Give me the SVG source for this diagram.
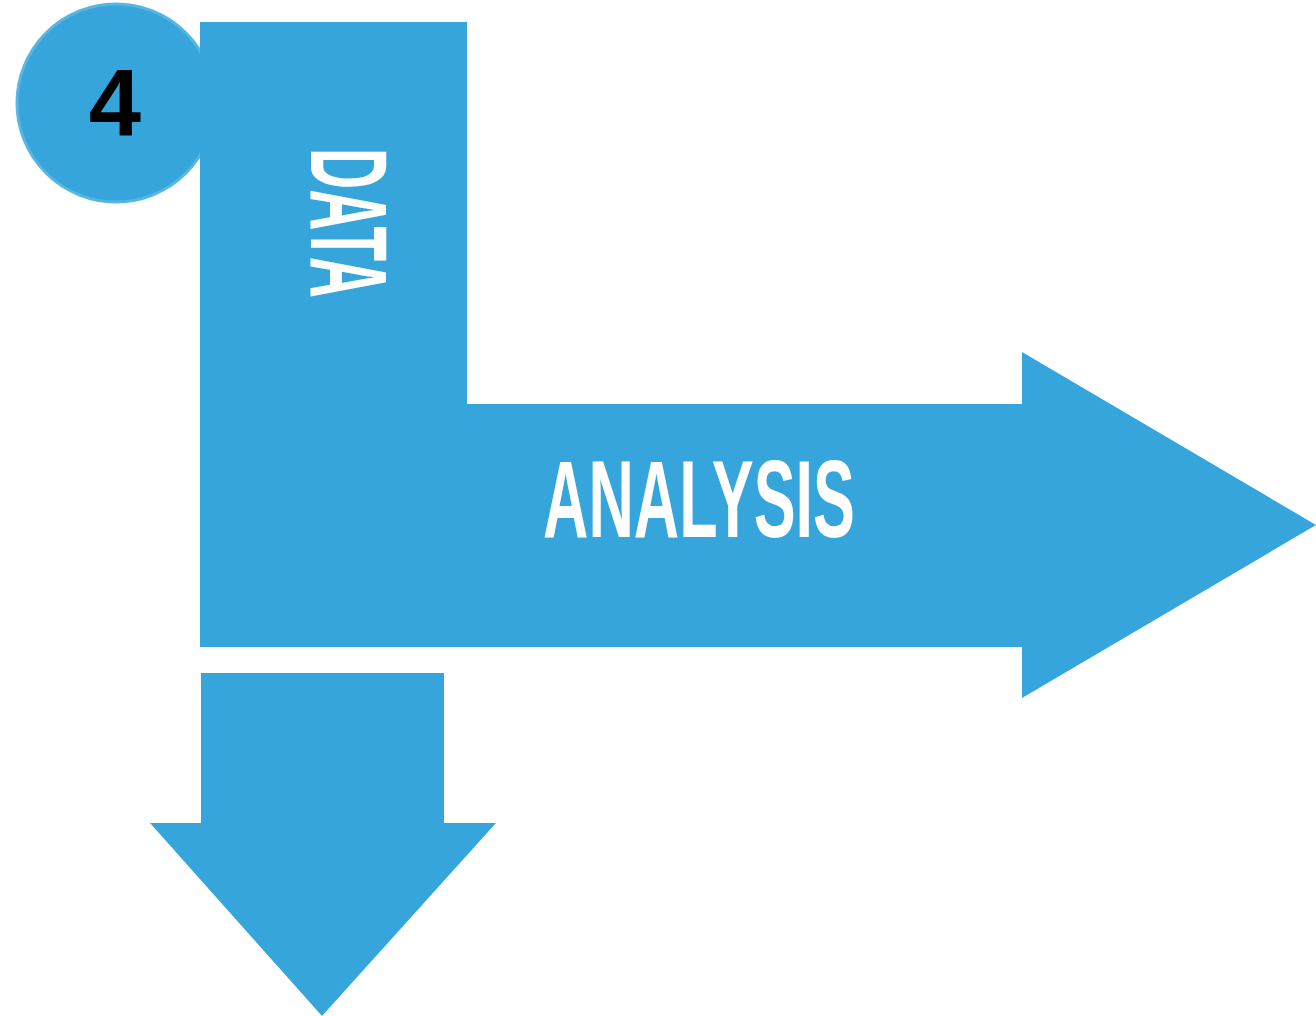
<svg xmlns="http://www.w3.org/2000/svg" width="1316" height="1016" viewBox="0 0 1316 1016">
<style>
.shape{fill:#35a5db;}
.lbl{fill:#ffffff;font-family:"Liberation Sans Narrow","Liberation Sans",sans-serif;font-weight:bold;font-size:109px;}
.num{fill:#000000;font-family:"Liberation Sans",sans-serif;font-weight:bold;font-size:94px;}
</style>
<rect width="1316" height="1016" fill="#ffffff"/>
<g id="badge">
<circle cx="116" cy="103" r="99" fill="#35a5db" stroke="#58b6e2" stroke-width="3"/>
<text class="num" x="115" y="135" text-anchor="middle">4</text>
</g>
<g id="connectors">
<path id="main-arrow" class="shape" d="M200,22 H467 V404 H1022 V352 L1316,525 L1022,698 V647 H200 Z"/>
<path id="down-arrow" class="shape" d="M201,673 H444 V823 H496 L322,1016 L150,823 H201 Z"/>
</g>
<g id="data">
<text class="lbl" transform="translate(311,148) rotate(90)" x="0" y="0" textLength="150" lengthAdjust="spacingAndGlyphs">DATA</text>
</g>
<g id="analysis">
<text class="lbl" x="543" y="537" textLength="312" lengthAdjust="spacingAndGlyphs">ANALYSIS</text>
</g>
</svg>
